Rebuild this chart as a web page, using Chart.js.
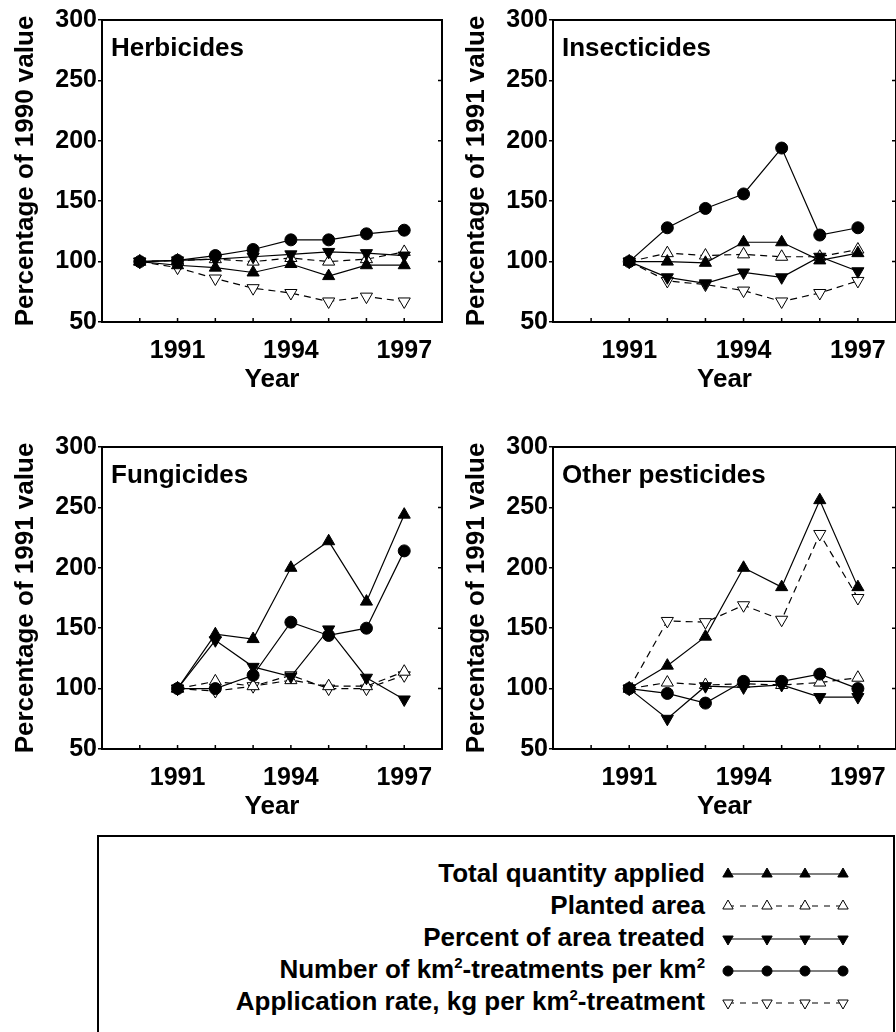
<!DOCTYPE html>
<html>
<head>
<meta charset="utf-8">
<script src="https://cdn.jsdelivr.net/npm/chart.js@4.4.1/dist/chart.umd.min.js"></script>
<style>
  html, body { margin: 0; padding: 0; background: #fff; overflow: hidden; width: 896px; height: 1032px; }
  body { position: relative; font-family: "Liberation Sans", Arial, Helvetica, sans-serif; }
  canvas { position: absolute; }
  #legendBox { position: absolute; left: 97px; top: 835px; width: 798px; height: 230px; border: 2px solid #000; box-sizing: border-box; }
  .lt { position: absolute; right: 191px; font-weight: bold; font-size: 26px; line-height: 32px; white-space: nowrap; color: #000; }
  .lt sup { font-size: 15px; line-height: 0; vertical-align: 10px; }
  #legendSvg { position: absolute; left: 0; top: 0; }
</style>
</head>
<body>
<canvas id="herb" width="450" height="400" style="left:0;top:0"></canvas>
<canvas id="insect" width="453" height="400" style="left:451px;top:0"></canvas>
<canvas id="fung" width="450" height="400" style="left:0;top:427px"></canvas>
<canvas id="other" width="453" height="400" style="left:451px;top:427px"></canvas>

<div id="legendBox"></div>
<div class="lt" style="top:857px">Total quantity applied</div>
<div class="lt" style="top:889px">Planted area</div>
<div class="lt" style="top:921px">Percent of area treated</div>
<div class="lt" style="top:953px">Number of km<sup>2</sup>-treatments per km<sup>2</sup></div>
<div class="lt" style="top:985px">Application rate, kg per km<sup>2</sup>-treatment</div>
<svg id="legendSvg" width="896" height="1032"></svg>

<script>
// ---- data ----
const yearTicks = [1990, 1991, 1992, 1993, 1994, 1995, 1996, 1997];
const yearLabels = [1991, 1994, 1997];
const valueTicks = [50, 100, 150, 200, 250, 300];
const innerTicks = [100, 150, 200, 250];

const herbYears = [1990, 1991, 1992, 1993, 1994, 1995, 1996, 1997];
const herbTotal   = [100, 97, 95, 91, 98, 88, 97, 97];
const herbPlanted = [100, 101, 102, 100, 103, 100, 102, 108];
const herbPercent = [100, 101, 102, 104, 106, 108, 107, 105];
const herbNumber  = [100, 101, 105, 110, 118, 118, 123, 126];
const herbRate    = [100, 95, 86, 78, 74, 67, 71, 67];

const years91 = [1991, 1992, 1993, 1994, 1995, 1996, 1997];
const insTotal   = [100, 100, 99, 116, 116, 101, 107];
const insPlanted = [100, 107, 105, 106, 104, 104, 110];
const insPercent = [100, 87, 82, 91, 87, 104, 92];
const insNumber  = [100, 128, 144, 156, 194, 122, 128];
const insRate    = [100, 84, 81, 76, 67, 74, 84];

const fungTotal   = [100, 145, 141, 200, 222, 172, 244];
const fungPlanted = [100, 106, 102, 107, 102, 102, 114];
const fungPercent = [100, 140, 118, 110, 149, 109, 91];
const fungNumber  = [100, 100, 111, 155, 144, 150, 214];
const fungRate    = [100, 98, 102, 111, 100, 100, 111];

const othTotal   = [100, 119, 143, 200, 184, 256, 184];
const othPlanted = [100, 105, 103, 104, 103, 105, 109];
const othPercent = [100, 75, 102, 101, 103, 93, 93];
const othNumber  = [100, 96, 88, 106, 106, 112, 100];
const othRate    = [100, 156, 155, 169, 157, 228, 175];

const FONT = '"Liberation Sans", Arial, Helvetica, sans-serif';

// styles for each series (number drawn on top)
const seriesStyle = {
  number:  { pointStyle: 'circle',   rot: 0,   fill: '#000', dash: [],     r: 6 },
  total:   { pointStyle: 'triangle', rot: 0,   fill: '#000', dash: [],     r: 7 },
  percent: { pointStyle: 'triangle', rot: 180, fill: '#000', dash: [],     r: 7 },
  planted: { pointStyle: 'triangle', rot: 0,   fill: '#fff', dash: [7, 5], r: 7 },
  rate:    { pointStyle: 'triangle', rot: 180, fill: '#fff', dash: [7, 5], r: 7 }
};

function makeDataset(name, years, values) {
  const s = seriesStyle[name];
  return {
    label: name,
    data: years.map((yr, i) => ({ x: yr, y: values[i] })),
    borderColor: '#000',
    borderWidth: 1.2,
    borderDash: s.dash,
    pointStyle: s.pointStyle,
    pointRotation: s.rot,
    pointRadius: s.r,
    pointBackgroundColor: s.fill,
    pointBorderColor: '#000',
    pointBorderWidth: 1,
    tension: 0,
    fill: false
  };
}

// frame, inward ticks and panel label
const panelFrame = {
  id: 'panelFrame',
  afterDatasetsDraw(chart, args, opts) {
    const { ctx, chartArea: a, scales } = chart;
    ctx.save();
    ctx.strokeStyle = '#000';
    ctx.lineWidth = 1.5;
    ctx.beginPath();
    yearTicks.forEach(v => {
      const x = scales.x.getPixelForValue(v);
      ctx.moveTo(x, a.bottom);
      ctx.lineTo(x, a.bottom - 4);
    });
    innerTicks.forEach(v => {
      const y = scales.y.getPixelForValue(v);
      ctx.moveTo(a.right, y);
      ctx.lineTo(a.right - 4, y);
    });
    ctx.stroke();
    ctx.lineWidth = 2;
    ctx.strokeRect(a.left, a.top, a.right - a.left, a.bottom - a.top);
    ctx.fillStyle = '#000';
    ctx.font = 'bold 26px ' + FONT;
    ctx.textBaseline = 'alphabetic';
    ctx.textAlign = 'left';
    ctx.fillText(opts.text, a.left + 9, a.top + 36);
    ctx.restore();
  }
};

function makePanel(id, title, yTitle, years, total, planted, percent, number, rate) {
  const tickFont = { family: FONT, size: 25, weight: 'bold' };
  const titleFont = { family: FONT, size: 26, weight: 'bold' };
  new Chart(document.getElementById(id), {
    type: 'line',
    data: {
      datasets: [
        makeDataset('number', years, number),
        makeDataset('total', years, total),
        makeDataset('percent', years, percent),
        makeDataset('planted', years, planted),
        makeDataset('rate', years, rate)
      ]
    },
    plugins: [panelFrame],
    options: {
      responsive: false,
      animation: false,
      layout: { padding: { left: 0, top: 20, right: 5, bottom: 0 } },
      plugins: {
        legend: { display: false },
        tooltip: { enabled: false },
        panelFrame: { text: title }
      },
      scales: {
        x: {
          type: 'linear',
          min: 1989,
          max: 1998,
          afterBuildTicks: s => { s.ticks = yearTicks.map(v => ({ value: v })); },
          afterFit: s => { s.height = 78; },
          ticks: {
            autoSkip: false,
            maxRotation: 0,
            padding: 6,
            color: '#000',
            font: tickFont,
            callback: v => yearLabels.includes(v) ? String(v) : ''
          },
          grid: { display: false },
          border: { display: false },
          title: { display: true, text: 'Year', color: '#000', font: titleFont, padding: { top: 0, bottom: 5 } }
        },
        y: {
          min: 50,
          max: 300,
          afterBuildTicks: s => { s.ticks = valueTicks.map(v => ({ value: v })); },
          afterFit: s => { s.width = 102; },
          ticks: { padding: 1, color: '#000', font: tickFont, callback: v => String(v) },
          grid: { drawOnChartArea: false, drawTicks: true, tickLength: 4, color: '#000', lineWidth: 1.5 },
          border: { display: false },
          title: { display: true, text: yTitle, color: '#000', font: titleFont, padding: { top: 10.5, bottom: 0 } }
        }
      }
    }
  });
}

makePanel('herb', 'Herbicides', 'Percentage of 1990 value', herbYears, herbTotal, herbPlanted, herbPercent, herbNumber, herbRate);
makePanel('insect', 'Insecticides', 'Percentage of 1991 value', years91, insTotal, insPlanted, insPercent, insNumber, insRate);
makePanel('fung', 'Fungicides', 'Percentage of 1991 value', years91, fungTotal, fungPlanted, fungPercent, fungNumber, fungRate);
makePanel('other', 'Other pesticides', 'Percentage of 1991 value', years91, othTotal, othPlanted, othPercent, othNumber, othRate);

// legend samples
const legendOrder = ['total', 'planted', 'percent', 'number', 'rate'];
const legendRowY = [874, 906, 939, 971, 1003];
const legendMarkX = [728, 767, 805, 843];
const svg = document.getElementById('legendSvg');
const NS = 'http://www.w3.org/2000/svg';
legendOrder.forEach((name, i) => {
  const s = seriesStyle[name];
  const cy = legendRowY[i];
  const line = document.createElementNS(NS, 'line');
  line.setAttribute('x1', legendMarkX[0]);
  line.setAttribute('x2', legendMarkX[legendMarkX.length - 1]);
  line.setAttribute('y1', cy);
  line.setAttribute('y2', cy);
  line.setAttribute('stroke', '#000');
  line.setAttribute('stroke-width', '1.2');
  if (s.dash.length) line.setAttribute('stroke-dasharray', '6 6');
  svg.appendChild(line);
  legendMarkX.forEach(cx => {
    let el;
    if (s.pointStyle === 'circle') {
      el = document.createElementNS(NS, 'circle');
      el.setAttribute('cx', cx);
      el.setAttribute('cy', cy);
      el.setAttribute('r', 5);
    } else {
      const r = 6;
      const dir = s.rot === 180 ? -1 : 1;
      const pts = [
        [cx, cy - dir * r],
        [cx + r * 0.866, cy + dir * r / 2],
        [cx - r * 0.866, cy + dir * r / 2]
      ];
      el = document.createElementNS(NS, 'polygon');
      el.setAttribute('points', pts.map(p => p.join(',')).join(' '));
    }
    el.setAttribute('fill', s.fill);
    el.setAttribute('stroke', '#000');
    el.setAttribute('stroke-width', '1');
    svg.appendChild(el);
  });
});
</script>
</body>
</html>
